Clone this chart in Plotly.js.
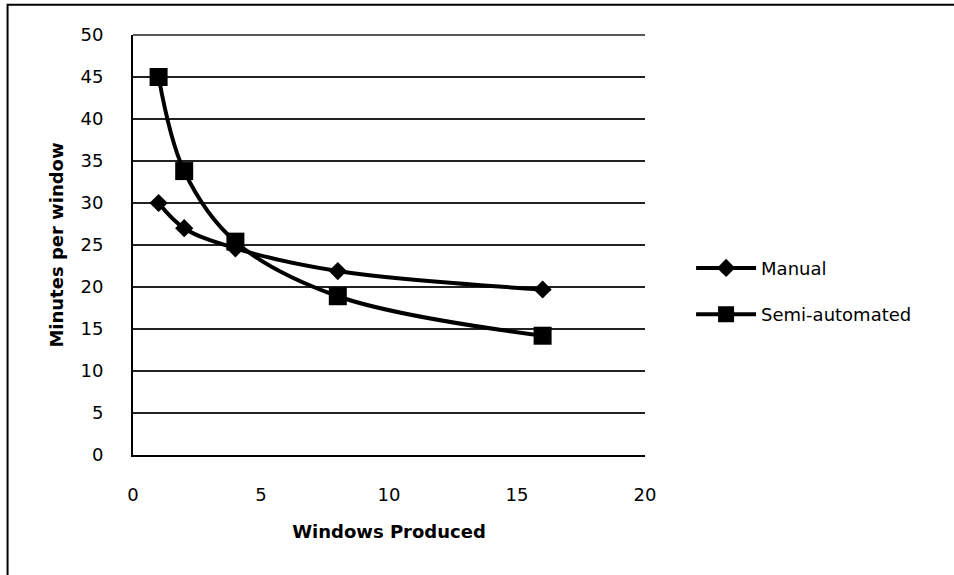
<!DOCTYPE html>
<html>
<head>
<meta charset="utf-8">
<script src="https://cdn.plot.ly/plotly-3.0.1.min.js"></script>
<style>html,body{margin:0;padding:0;background:#fff;}#chart{width:954px;height:575px;}</style>
</head>
<body>
<div id="chart"></div>
<script>
const windowsProduced = [1, 2, 4, 8, 16];
const manualMinutes = [30, 27, 24.6, 21.9, 19.7];
const semiAutomatedMinutes = [45, 33.8, 25.4, 18.9, 14.2];
const seriesNames = ["Manual", "Semi-automated"];
const xTicks = [0, 5, 10, 15, 20];
const yTicks = [0, 5, 10, 15, 20, 25, 30, 35, 40, 45, 50];

const FONT = "'DejaVu Sans', Verdana, sans-serif";

const traces = [
  {
    x: windowsProduced, y: manualMinutes, name: seriesNames[0],
    type: "scatter", mode: "lines+markers",
    line: {color: "#000", width: 4, shape: "spline", smoothing: 1},
    marker: {symbol: "diamond", size: 14, color: "#000"},
    legendgroup: "a"
  },
  {
    x: windowsProduced, y: semiAutomatedMinutes, name: seriesNames[1],
    type: "scatter", mode: "lines+markers",
    line: {color: "#000", width: 4, shape: "spline", smoothing: 1},
    marker: {symbol: "square", size: 18, color: "#000"},
    legendgroup: "b"
  }
];

const layout = {
  width: 954, height: 575,
  margin: {l: 133, r: 309, t: 35, b: 120},
  paper_bgcolor: "#fff", plot_bgcolor: "#fff",
  font: {family: FONT, size: 18, color: "#000"},
  showlegend: true,
  legend: {
    x: 1.09, y: 0.39, xanchor: "left", yanchor: "middle",
    font: {family: FONT, size: 18, color: "#000"},
    traceorder: "grouped", tracegroupgap: 20,
    itemwidth: 60, bgcolor: "rgba(0,0,0,0)"
  },
  xaxis: {
    range: [0, 20], tickvals: xTicks, ticktext: xTicks.map(String),
    showgrid: false, zeroline: false,
    showline: true, linecolor: "#000", linewidth: 2,
    ticks: "", ticklabelstandoff: 22,
    tickfont: {family: FONT, size: 18, color: "#000"},
    title: {text: "<b>Windows Produced</b>", font: {family: FONT, size: 18, color: "#000"}, standoff: 22}
  },
  yaxis: {
    range: [0, 50], tickvals: yTicks, ticktext: yTicks.map(String),
    showgrid: true, gridcolor: "#222", gridwidth: 1.6,
    zeroline: false,
    showline: true, linecolor: "#000", linewidth: 2,
    ticks: "", ticklabelstandoff: 24,
    tickfont: {family: FONT, size: 18, color: "#000"},
    title: {text: "<b>Minutes per window</b>", font: {family: FONT, size: 18, color: "#000"}, standoff: 12}
  },
  shapes: [
    {type: "rect", xref: "paper", yref: "paper",
     x0: -0.245, x1: 1.8, y0: -0.5, y1: 1.072,
     line: {color: "#000", width: 2}, fillcolor: "rgba(0,0,0,0)", layer: "above"},
    {type: "line", xref: "paper", yref: "paper", x0: 0, x1: 1, y0: 1, y1: 1,
     line: {color: "#222", width: 1.6}}
  ]
};

Plotly.newPlot("chart", traces, layout, {staticPlot: true, displayModeBar: false});
</script>
</body>
</html>
